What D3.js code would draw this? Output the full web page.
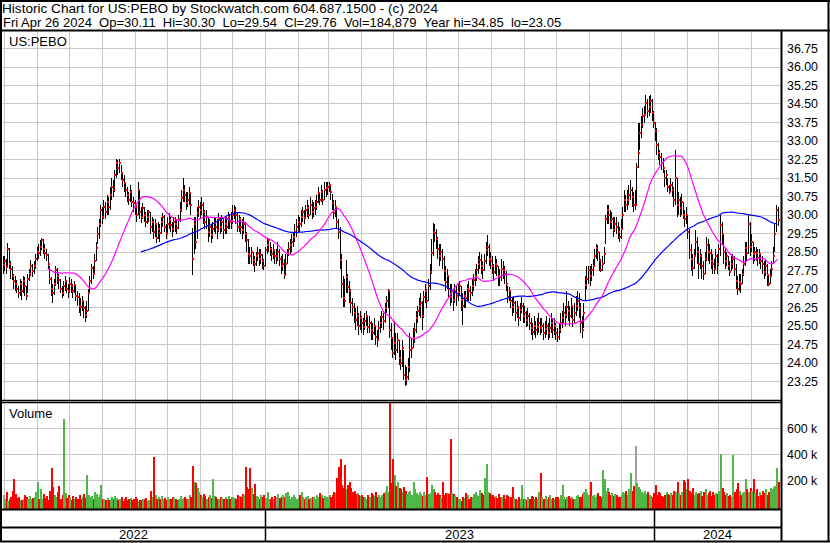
<!DOCTYPE html>
<html><head><meta charset="utf-8">
<script src="https://cdn.jsdelivr.net/npm/d3@7/dist/d3.min.js"></script>
<style>
body{margin:0;background:#fff}
svg{display:block}
text{font-family:"Liberation Sans",Arial,sans-serif;fill:#000}
</style>
</head><body>
<svg id="chart" width="830" height="543"></svg>
<script>
const titleText = "Historic Chart for US:PEBO by Stockwatch.com 604.687.1500 - (c) 2024";
const infoText = "Fri Apr 26 2024  Op=30.11  Hi=30.30  Lo=29.54  Cl=29.76  Vol=184,879  Year hi=34.85  lo=23.05";
const symbolText = "US:PEBO";
const volumeLabel = "Volume";
const firstDate = "2022-04-29";
const lastDate = "2024-04-26";
const yearLabels = ["2022", "2023", "2024"];
const priceTicks = [36.75,36.00,35.25,34.50,33.75,33.00,32.25,31.50,30.75,30.00,29.25,28.50,27.75,27.00,26.25,25.50,24.75,24.00,23.25];
const volumeTicks = [200000, 400000, 600000];
const maShortDays = 30;
const maLongDays = 90;

const close = [
27.95,28.1,27.88,28.6,28.0,27.8,27.5,27.3,27.2,27.0,
26.8,27.2,26.9,27.3,27.1,26.7,27.4,27.6,27.9,27.7,
27.9,28.2,28.5,28.45,28.7,28.97,28.6,28.45,28.36,28.0,
27.4,27.0,26.8,27.2,27.75,27.5,27.35,27.0,26.8,27.1,
27.3,27.0,26.9,27.2,27.1,26.9,27.14,26.7,26.67,26.3,
26.26,26.5,26.2,25.93,26.1,26.8,27.3,27.82,27.6,28.1,
28.63,29.2,29.6,30.18,29.9,30.32,30.1,30.52,30.3,30.8,
31.13,31.0,31.6,32.07,31.9,32.1,31.67,31.4,31.26,31.0,
30.8,30.6,30.9,30.5,30.45,30.32,30.0,31.0,30.1,29.9,
30.27,30.0,29.7,29.9,30.1,29.5,29.7,29.3,29.6,29.03,
29.4,29.24,29.7,29.9,29.5,29.2,29.6,29.78,29.57,29.4,
29.7,29.6,29.45,29.8,30.2,30.68,31.0,30.8,30.45,30.6,
30.86,30.4,28.2,29.6,28.9,30.05,30.3,30.2,30.4,30.1,
29.7,29.9,29.3,29.5,29.17,29.4,29.64,29.5,29.37,29.8,
29.5,29.7,29.37,29.6,29.5,29.9,29.7,29.75,30.0,30.2,
30.0,29.5,29.8,29.5,29.37,29.6,29.2,28.97,28.4,28.3,
28.5,28.15,28.0,28.3,28.43,28.2,28.35,28.1,27.9,28.56,
28.76,28.97,28.6,28.4,28.55,28.3,28.3,28.5,28.2,27.9,
28.0,27.54,28.0,28.43,28.6,28.76,28.9,29.1,29.3,29.5,
29.7,29.6,29.9,30.1,29.85,30.2,30.25,30.0,30.4,30.1,
30.25,30.3,30.5,30.86,30.6,30.9,30.6,31.0,31.06,31.13,
31.2,30.9,30.45,30.05,30.3,29.7,29.3,28.16,27.2,26.6,
26.5,27.48,27.07,26.9,26.4,26.26,26.0,25.72,25.9,25.5,
25.8,25.59,25.45,25.7,25.9,25.45,25.6,25.3,25.2,25.5,
25.05,24.9,25.4,25.6,25.86,25.7,26.2,26.5,26.9,25.3,
25.0,24.37,24.8,24.5,24.9,24.2,24.0,24.6,23.5,23.3,
23.4,23.8,24.5,24.6,25.0,25.3,25.8,26.1,26.3,26.4,
25.9,26.67,26.9,26.5,27.1,27.68,28.43,29.3,29.24,29.0,
28.6,28.3,28.5,28.2,27.7,27.28,27.5,27.0,26.67,26.9,
26.53,26.9,26.7,26.87,27.1,26.53,26.3,26.7,26.6,27.0,
26.9,26.8,27.1,27.35,27.5,27.75,28.0,28.15,27.9,27.75,
28.1,28.56,28.7,28.2,28.1,27.9,27.68,28.0,27.9,27.5,
27.48,27.8,27.75,27.6,27.2,26.67,26.9,26.5,26.26,26.4,
26.0,26.2,25.8,26.13,26.3,25.9,26.0,25.72,25.9,25.6,
25.4,25.25,25.5,25.3,25.45,25.6,25.4,25.5,25.2,25.35,
25.5,25.2,25.4,25.6,25.32,25.5,25.2,25.05,25.3,25.6,
25.8,26.0,25.93,26.26,26.1,25.9,26.3,25.72,26.0,26.3,
26.5,26.2,25.6,25.3,26.0,27.14,27.4,27.75,27.5,27.75,
27.9,28.3,28.63,28.5,28.1,27.75,28.0,28.4,29.8,30.2,
30.0,29.7,29.8,29.37,29.6,29.5,29.3,29.1,29.4,30.0,
30.6,30.4,30.6,30.8,31.0,30.7,30.4,30.4,31.94,32.5,
33.3,33.63,34.0,34.04,34.5,34.2,34.37,34.6,34.1,33.7,
33.4,32.8,32.5,32.34,32.1,31.9,31.47,31.6,31.13,30.93,
31.2,31.0,30.6,31.5,30.4,30.6,30.25,30.5,30.0,29.8,
30.0,29.3,28.56,28.2,27.82,28.3,28.9,28.5,28.0,28.3,
27.9,27.6,28.2,28.76,28.5,28.42,28.1,28.0,27.8,28.3,
28.0,28.6,29.58,29.2,28.5,28.1,28.3,27.9,27.68,28.0,
28.2,27.8,27.3,27.0,27.28,27.2,27.6,28.0,28.63,28.43,
29.6,28.7,28.9,28.4,28.5,28.43,28.22,28.4,28.1,28.0,
27.68,27.9,27.55,27.2,27.5,27.8,28.3,29.2,30.2,29.76
];

const high = [
28.3,28.3,28.2,28.83,28.65,28.1,27.9,27.6,27.5,27.35,
27.1,27.4,27.3,27.5,27.45,27.1,27.6,27.8,28.15,28.0,
28.1,28.4,28.7,28.8,28.95,29.03,29.0,28.8,28.6,28.4,
27.9,27.45,27.2,27.4,27.9,27.85,27.6,27.4,27.1,27.3,
27.5,27.35,27.2,27.45,27.4,27.2,27.3,27.2,26.9,26.8,
26.6,26.7,26.55,26.3,26.5,27.0,27.5,28.0,27.9,28.4,
28.9,29.5,29.8,30.4,30.3,30.6,30.5,30.8,30.7,31.1,
31.5,31.4,31.8,32.24,32.2,32.24,32.0,31.7,31.6,31.3,
31.1,30.9,31.2,31.0,30.7,30.6,30.4,31.3,31.0,30.3,
30.45,30.3,30.1,30.2,30.2,30.1,29.9,29.8,29.8,29.6,
29.7,29.6,29.9,30.05,30.0,29.6,29.9,30.05,29.9,29.7,
29.9,29.9,29.8,30.0,30.5,31.0,31.47,31.2,30.9,30.9,
31.1,30.9,29.44,29.9,29.9,30.3,30.6,30.5,30.72,30.5,
30.2,30.2,29.9,29.8,29.6,29.7,29.9,29.9,29.8,30.05,
29.9,30.0,29.8,29.9,29.9,30.1,30.0,30.1,30.38,30.38,
30.3,30.1,30.0,29.9,29.8,29.9,29.7,29.3,29.0,28.7,
28.7,28.5,28.3,28.5,28.7,28.6,28.6,28.4,28.2,28.7,
29.0,29.0,28.9,28.7,28.8,28.6,28.6,28.9,28.6,28.3,
28.4,28.2,28.4,28.6,28.9,29.0,29.2,29.3,29.6,29.8,
30.0,29.9,30.2,30.3,30.2,30.4,30.6,30.4,30.7,30.6,
30.5,30.6,30.8,31.1,30.9,31.2,31.0,31.3,31.3,31.33,
31.33,31.2,30.85,30.6,30.6,30.3,29.8,29.5,28.4,27.5,
27.4,28.15,27.6,27.3,27.0,26.6,26.4,26.2,26.3,26.0,
26.1,25.9,25.8,26.0,26.1,25.9,25.9,25.7,25.6,25.8,
25.5,25.3,25.7,25.9,26.1,26.0,26.4,26.7,27.0,26.9,
25.6,25.0,25.7,25.2,25.2,24.9,24.5,24.9,24.5,23.9,
23.8,24.2,25.2,25.0,25.4,25.6,26.1,26.3,26.6,26.8,
26.5,26.9,27.2,27.0,27.4,28.0,29.0,29.65,29.6,29.4,
29.1,28.8,28.8,28.6,28.3,27.9,27.8,27.5,27.2,27.2,
27.0,27.2,27.1,27.2,27.3,27.1,26.8,26.9,26.9,27.2,
27.3,27.1,27.4,27.6,27.8,28.0,28.3,28.5,28.4,28.1,
28.4,28.9,29.17,28.8,28.5,28.3,28.0,28.3,28.2,27.9,
27.8,28.2,28.1,27.9,27.7,27.1,27.05,26.9,26.6,26.7,
26.5,26.5,26.3,26.4,26.65,26.4,26.3,26.1,26.2,26.0,
25.8,25.6,25.9,25.7,25.8,26.0,25.8,25.8,25.6,25.7,
25.9,25.6,25.8,26.0,25.8,25.8,25.6,25.4,25.6,26.0,
26.1,26.4,26.3,26.9,26.5,26.3,26.6,26.3,26.4,26.7,
26.9,26.8,26.4,25.9,26.4,27.5,27.9,27.9,27.9,28.0,
28.2,28.6,28.8,28.76,28.5,28.2,28.3,28.7,30.0,30.4,
30.4,30.2,30.1,29.9,29.9,29.9,29.7,29.5,29.8,30.3,
31.0,30.8,31.0,31.2,31.4,31.1,30.9,31.0,32.1,33.7,
33.7,34.0,34.3,34.4,34.85,34.7,34.8,34.85,34.7,34.2,
33.76,33.5,32.9,32.6,32.5,32.3,31.8,31.8,31.5,31.2,
31.5,31.3,31.1,32.6,31.5,30.9,30.7,30.85,30.5,30.2,
30.3,30.0,29.4,28.8,28.4,28.6,29.37,29.1,28.7,28.6,
28.4,28.1,28.5,29.1,29.0,28.8,28.6,28.4,28.2,28.6,
28.4,28.8,30.0,29.7,29.2,28.6,28.5,28.3,28.1,28.3,
28.4,28.3,28.0,27.5,27.6,27.6,27.8,28.3,28.9,28.9,
30.0,29.7,29.2,28.9,28.7,28.7,28.6,28.6,28.4,28.3,
28.1,28.2,28.0,27.6,27.8,28.1,28.7,29.6,30.4,30.30
];

const low = [
27.6,27.7,27.6,27.85,27.8,27.4,27.35,27.0,26.9,26.8,
26.6,26.7,26.53,26.8,26.7,26.55,26.8,27.3,27.5,27.45,
27.6,27.8,28.1,28.2,28.3,28.55,28.4,28.2,28.1,27.8,
27.2,26.7,26.4,26.75,27.1,27.2,27.0,26.8,26.6,26.7,
26.9,26.8,26.6,26.8,26.8,26.6,26.8,26.5,26.3,26.0,
25.9,26.1,25.8,25.66,25.8,26.1,26.8,27.2,27.4,27.6,
28.1,28.8,29.0,29.5,29.6,29.8,29.8,30.0,30.0,30.2,
30.6,30.7,30.9,31.5,31.6,31.7,31.4,31.1,30.9,30.7,
30.5,30.4,30.5,30.3,30.1,30.0,29.7,30.0,29.8,29.65,
29.8,29.7,29.5,29.6,29.7,29.2,29.3,29.0,29.1,28.83,
29.0,28.9,29.2,29.5,29.3,29.0,29.2,29.4,29.3,29.1,
29.3,29.3,29.2,29.4,29.7,30.1,30.5,30.5,30.2,30.3,
30.4,30.0,27.55,28.4,28.6,29.0,29.9,29.8,30.0,29.6,
29.4,29.4,28.9,29.1,28.83,29.0,29.3,29.2,29.0,29.3,
29.2,29.3,29.0,29.2,29.2,29.4,29.4,29.4,29.6,29.8,
29.6,29.3,29.3,29.2,29.0,29.2,28.9,28.5,28.0,28.0,
28.0,27.9,27.68,27.9,28.1,27.9,28.0,27.8,27.75,27.9,
28.4,28.5,28.3,28.1,28.2,28.0,28.0,28.1,27.9,27.6,
27.7,27.4,27.6,28.0,28.3,28.4,28.5,28.7,28.9,29.1,
29.3,29.3,29.5,29.7,29.6,29.8,29.9,29.8,30.0,29.8,
29.9,30.0,30.2,30.45,30.4,30.5,30.4,30.6,30.7,30.8,
30.9,30.6,30.2,29.8,29.9,29.4,29.0,27.8,26.6,26.25,
26.25,26.8,26.8,26.4,26.0,25.9,25.6,25.3,25.5,25.1,
25.3,25.2,25.1,25.3,25.5,25.2,25.2,24.9,24.9,25.1,
24.7,24.64,24.9,25.2,25.4,25.3,25.6,26.0,26.2,25.0,
24.5,24.2,24.3,24.1,24.4,23.9,23.7,23.8,23.3,23.05,
23.1,23.3,23.6,24.2,24.6,24.8,25.2,25.6,25.9,25.8,
25.3,25.8,26.4,26.2,26.5,26.95,27.6,28.3,28.9,28.6,
28.2,27.9,28.1,27.8,27.3,26.9,27.0,26.6,26.3,26.4,
26.1,26.4,26.3,26.5,26.7,26.1,25.52,26.2,26.2,26.5,
26.5,26.5,26.7,26.9,27.1,27.3,27.6,27.8,27.6,27.4,
27.7,28.0,28.3,27.9,27.8,27.6,27.3,27.6,27.5,27.1,
27.1,27.3,27.4,27.2,26.9,26.4,26.5,26.2,25.9,26.0,
25.7,25.8,25.5,25.7,26.0,25.6,25.6,25.45,25.5,25.3,
25.1,24.9,25.1,25.0,25.1,25.2,25.1,25.2,24.9,25.0,
25.1,24.9,25.0,25.2,25.0,25.1,24.9,24.85,24.9,25.2,
25.4,25.6,25.5,25.8,25.7,25.5,25.8,25.45,25.6,25.9,
26.1,25.8,25.2,25.0,25.4,26.5,27.0,27.2,27.1,27.3,
27.5,27.9,28.2,28.1,27.7,27.68,27.7,28.0,28.8,29.6,
29.6,29.4,29.4,29.1,29.3,29.2,29.0,28.9,29.0,29.4,
30.1,30.1,30.2,30.4,30.6,30.3,30.1,30.2,30.4,31.9,
32.6,33.1,33.5,33.7,34.0,33.9,34.0,34.1,33.8,33.5,
33.0,32.4,32.2,32.0,31.8,31.7,31.1,31.2,30.9,30.85,
30.9,30.7,30.3,30.4,29.9,30.0,29.9,30.0,29.8,29.5,
29.6,29.0,28.2,27.7,27.5,27.8,28.3,28.0,27.4,27.8,
27.4,27.35,27.6,28.1,28.1,28.0,27.8,27.6,27.6,27.8,
27.6,27.9,28.3,28.8,28.0,27.8,27.9,27.75,27.5,27.7,
27.8,27.5,27.0,26.74,26.9,26.8,27.2,27.5,27.9,28.1,
28.4,28.3,28.5,28.0,28.1,28.1,27.9,28.0,27.8,27.6,
27.4,27.5,27.1,27.1,27.2,27.5,28.0,28.5,29.3,29.54
];

// daily volume, thousands of shares
const volumeK = [
85,60,110,40,55,75,120,210,95,65,
70,50,45,60,90,70,55,80,60,65,
75,110,190,55,130,60,95,65,80,50,
120,297,150,90,70,110,160,60,85,671,
100,65,90,75,50,80,60,70,55,85,
60,75,95,65,241,90,70,80,55,110,
95,70,85,164,60,55,50,65,45,60,
70,55,80,65,50,60,75,40,55,70,
45,60,65,50,55,70,60,40,50,45,
55,60,65,40,50,120,75,382,90,60,
70,55,80,60,65,50,75,60,55,70,
65,60,50,55,80,60,65,70,55,60,
90,75,312,190,180,140,110,85,70,95,
80,60,75,90,65,210,80,70,60,55,
75,65,60,70,55,80,60,75,70,65,
60,90,80,70,95,85,305,150,130,297,
140,95,170,80,70,60,90,75,85,65,
110,60,55,75,60,80,70,95,65,75,
90,70,100,110,80,60,75,85,70,60,
65,90,110,70,60,75,80,55,65,70,
75,60,85,70,100,90,65,80,70,75,
85,70,90,110,100,218,305,364,165,140,
320,130,165,187,140,110,120,95,100,85,
80,90,70,75,60,85,70,100,90,80,
110,75,85,70,90,100,120,160,110,950,
180,364,240,160,187,140,130,110,150,120,
95,110,120,90,187,130,100,90,110,95,
80,110,90,228,95,100,162,130,110,90,
100,85,75,187,90,100,100,95,517,100,
95,80,70,60,55,40,75,65,100,90,
60,75,70,95,110,90,80,125,100,90,
217,325,110,100,90,85,70,80,65,95,
75,70,85,60,90,80,75,70,150,65,
55,50,70,60,165,60,55,50,75,60,
80,75,60,70,55,110,256,70,60,80,
60,70,85,55,65,60,70,75,55,90,
162,70,60,75,80,65,70,55,60,80,
90,75,70,95,110,130,100,90,187,80,
85,70,90,100,80,75,280,210,120,140,
110,90,100,80,95,85,70,75,90,110,
100,120,90,130,256,120,160,464,180,150,
130,110,100,120,95,110,90,80,70,100,
165,90,110,100,80,75,90,110,95,85,
100,90,120,110,187,100,90,110,200,190,
130,210,120,100,140,90,110,95,100,120,
80,110,130,90,100,120,80,110,90,100,
95,120,400,140,110,90,100,80,90,70,
395,110,130,180,120,90,100,110,210,130,
110,140,120,210,100,130,80,110,90,120,
100,130,90,110,140,130,150,160,297,185
];

// ---------- layout ----------
const W = 830, H = 543;
const plotL = 2, plotR = 781;
const priceTop = 32, priceBot = 400;
const volTop = 402, volBot = 509;
const bottomY = 541;

const svg = d3.select("#chart");
svg.append("rect").attr("width", W).attr("height", H).attr("fill", "#fff");

const N = close.length;
const x = d3.scaleLinear().domain([0, N - 1]).range([2.5, 777.5]);
const xt = d3.scaleTime()
  .domain([new Date(firstDate + "T00:00:00"), new Date(lastDate + "T00:00:00")])
  .range([2, 778]);
const y = d3.scaleLinear().domain([23.25, 36.75]).range([381, 48]);
const yv = d3.scaleLinear().domain([0, 600000]).range([506.3, 428.3]);

const gridColor = "#c8c8c8";
const months = d3.timeMonth.range(xt.domain()[0], xt.domain()[1]);

const defs = svg.append("defs");
defs.append("clipPath").attr("id", "cp").append("rect")
  .attr("x", plotL).attr("y", priceTop).attr("width", plotR - plotL).attr("height", priceBot - priceTop);
defs.append("clipPath").attr("id", "cv").append("rect")
  .attr("x", plotL).attr("y", volTop).attr("width", plotR - plotL).attr("height", volBot - volTop);

// ---------- price panel ----------
const gp = svg.append("g").attr("clip-path", "url(#cp)");
const allPriceGrid = d3.range(0, 21).map(k => 36.75 + 0.75 - 0.75 * k);
gp.selectAll("line.hg").data(allPriceGrid).join("line")
  .attr("x1", plotL).attr("x2", plotR)
  .attr("y1", d => Math.round(y(d)) + 0.5).attr("y2", d => Math.round(y(d)) + 0.5)
  .attr("stroke", gridColor).attr("stroke-width", 1);
gp.selectAll("line.vg").data(months).join("line")
  .attr("x1", d => Math.round(xt(d)) + 0.5).attr("x2", d => Math.round(xt(d)) + 0.5)
  .attr("y1", priceTop).attr("y2", priceBot)
  .attr("stroke", gridColor).attr("stroke-width", 1);

const idx = d3.range(N);
gp.selectAll("rect.bar").data(idx).join("rect")
  .attr("x", i => Math.round(x(i)))
  .attr("width", 1)
  .attr("y", i => Math.round(y(high[i])))
  .attr("height", i => Math.max(1, Math.round(y(low[i])) - Math.round(y(high[i]))))
  .attr("fill", "#000").attr("shape-rendering", "crispEdges");
gp.selectAll("rect.cl").data(idx).join("rect")
  .attr("x", i => Math.round(x(i)))
  .attr("width", 2)
  .attr("y", i => Math.round(y(close[i])) - 1)
  .attr("height", 2)
  .attr("fill", "#ff0000").attr("shape-rendering", "crispEdges");

function sma(arr, n) {
  return arr.map((v, i) => i < n - 1 ? null : d3.mean(arr.slice(i - n + 1, i + 1)));
}
const maS = sma(close, maShortDays);
const maL = sma(close, maLongDays);
const line = d3.line().defined(d => d[1] != null).x(d => x(d[0])).y(d => y(d[1]));
gp.append("path").attr("d", line(maL.map((v, i) => [i, v])))
  .attr("fill", "none").attr("stroke", "#0000ff").attr("stroke-width", 1.2);
gp.append("path").attr("d", line(maS.map((v, i) => [i, v])))
  .attr("fill", "none").attr("stroke", "#ff00ff").attr("stroke-width", 1.2);

svg.append("text").attr("x", 9).attr("y", 46).attr("font-size", 13).text(symbolText);

// ---------- volume panel ----------
const gv = svg.append("g").attr("clip-path", "url(#cv)");
gv.selectAll("line.hg").data(volumeTicks.concat([800000])).join("line")
  .attr("x1", plotL).attr("x2", plotR)
  .attr("y1", d => Math.round(yv(d)) + 0.5).attr("y2", d => Math.round(yv(d)) + 0.5)
  .attr("stroke", gridColor);
gv.selectAll("line.vg").data(months).join("line")
  .attr("x1", d => Math.round(xt(d)) + 0.5).attr("x2", d => Math.round(xt(d)) + 0.5)
  .attr("y1", volTop).attr("y2", volBot)
  .attr("stroke", gridColor);
gv.selectAll("rect.vb").data(idx).join("rect")
  .attr("x", i => Math.round(x(i)))
  .attr("width", 2)
  .attr("y", i => Math.round(yv(volumeK[i] * 1000)))
  .attr("height", i => volBot - Math.round(yv(volumeK[i] * 1000)))
  .attr("shape-rendering", "crispEdges")
  .attr("fill", i => {
    if (i === 0) return "#a0a0a0";
    if (close[i] > close[i - 1]) return "#4db848";
    if (close[i] < close[i - 1]) return "#ff0000";
    return "#a0a0a0";
  });
svg.append("text").attr("x", 9).attr("y", 418).attr("font-size", 13).text(volumeLabel);

// ---------- right axes ----------
svg.selectAll("text.pt").data(priceTicks).join("text")
  .attr("x", 787).attr("y", d => y(d) + 4.5)
  .attr("font-size", 12.4).text(d => d.toFixed(2));
svg.selectAll("text.vt").data(volumeTicks).join("text")
  .attr("x", 787).attr("y", d => yv(d) + 4.5)
  .attr("font-size", 12.4).text(d => (d / 1000) + " k");

// ---------- year axis ----------
const yearStarts = yearLabels.map(s => new Date(s + "-01-01T00:00:00"));
const bounds = yearStarts.map((d, k) => k === 0 ? plotL : Math.round(xt(d)));
bounds.push(plotR);
svg.selectAll("text.yr").data(yearLabels).join("text")
  .attr("x", (d, k) => (bounds[k] + bounds[k + 1]) / 2)
  .attr("y", 539).attr("text-anchor", "middle").attr("font-size", 13).text(d => d);
svg.selectAll("line.ys").data(bounds.slice(1, -1)).join("line")
  .attr("x1", d => d + 0.5).attr("x2", d => d + 0.5)
  .attr("y1", volBot).attr("y2", bottomY)
  .attr("stroke", "#000").attr("stroke-width", 1.5);

// ---------- frames ----------
const blk = (x1, y1, x2, y2, w) => svg.append("line")
  .attr("x1", x1).attr("y1", y1).attr("x2", x2).attr("y2", y2)
  .attr("stroke", "#000").attr("stroke-width", w);
blk(0, 1, W, 1, 2);
blk(1, 0, 1, H - 1, 2);
blk(828.5, 0, 828.5, H - 1, 2);
blk(0, 541.5, W, 541.5, 2);
blk(0, 30.5, W, 30.5, 2);
blk(plotR + 0.5, 31, plotR + 0.5, 542, 2);
blk(0, 400.5, plotR, 400.5, 1.5);
blk(0, 402.5, plotR, 402.5, 1.5);
blk(0, 509.5, plotR + 1, 509.5, 2);
blk(0, 527.5, plotR + 1, 527.5, 2);

// ---------- header ----------
svg.append("text").attr("x", 2).attr("y", 13).attr("font-size", 13.6)
  .style("white-space", "pre").text(titleText);
svg.append("text").attr("x", 3).attr("y", 27).attr("font-size", 13)
  .style("white-space", "pre").text(infoText);
</script>
</body></html>
